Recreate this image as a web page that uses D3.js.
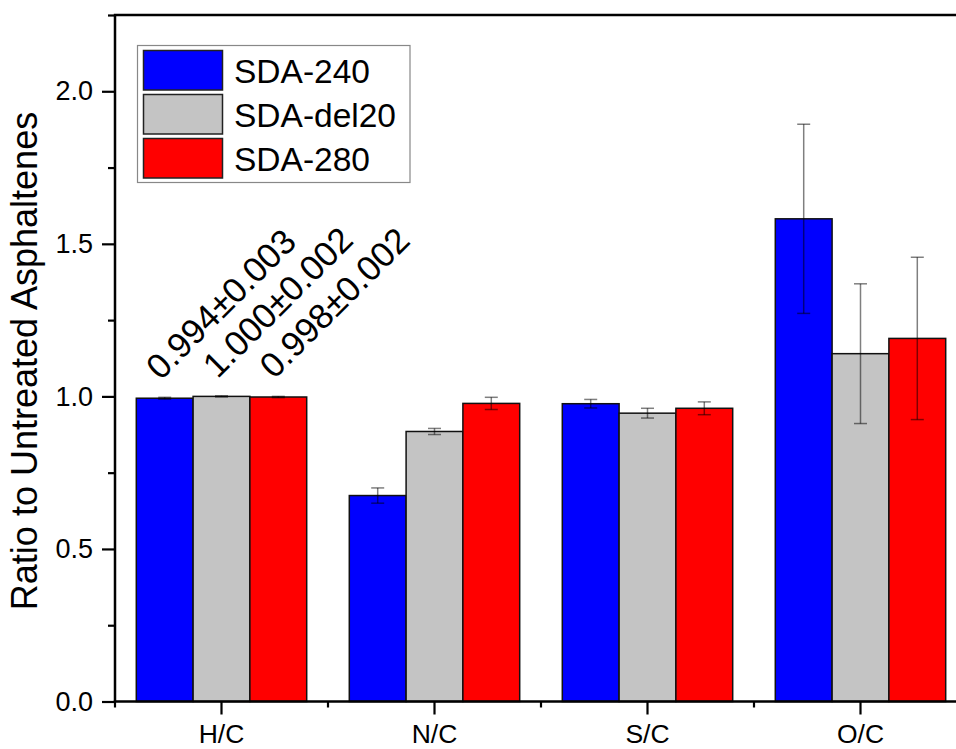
<!DOCTYPE html>
<html>
<head>
<meta charset="utf-8">
<script src="https://cdn.jsdelivr.net/npm/d3@7"></script>
<style>
  html, body { margin: 0; padding: 0; background: #fff; overflow: hidden; }
  text { font-family: Arial, "Liberation Sans", sans-serif; }
</style>
</head>
<body>
<svg id="chart" width="956" height="749"></svg>
<script>
const categories = ["H/C", "N/C", "S/C", "O/C"];
const seriesNames = ["SDA-240", "SDA-del20", "SDA-280"];
const seriesColors = ["#0000FF", "#C4C4C4", "#FF0000"];
const sda240 = [0.994, 0.675, 0.976, 1.582];
const sda240Err = [0.003, 0.025, 0.014, 0.31];
const sdaDel20 = [1.000, 0.885, 0.945, 1.140];
const sdaDel20Err = [0.002, 0.010, 0.016, 0.229];
const sda280 = [0.998, 0.977, 0.961, 1.190];
const sda280Err = [0.002, 0.020, 0.021, 0.266];
const hcLabels = ["0.994\u00B10.003", "1.000\u00B10.002", "0.998\u00B10.002"];
const yTicks = [0.0, 0.5, 1.0, 1.5, 2.0];
const yMinorTicks = [0.25, 0.75, 1.25, 1.75, 2.25];
const yTitle = "Ratio to Untreated Asphaltenes";

const values = [sda240, sdaDel20, sda280];
const errors = [sda240Err, sdaDel20Err, sda280Err];

const svg = d3.select("#chart");
const pLeft = 115, pTop = 15, pBottom = 701.5, step = 213;
const pRight = pLeft + step * categories.length;

const x = d3.scaleBand().domain(categories).range([pLeft, pRight]).paddingInner(0.2).paddingOuter(0.1);
const xs = d3.scaleBand().domain(seriesNames).range([0, x.bandwidth()]);
const y = d3.scaleLinear().domain([0, 2.25]).range([pBottom, pTop]);

const rows = [];
categories.forEach((c, ci) => {
  seriesNames.forEach((s, si) => {
    rows.push({cat: c, ser: s, si, v: values[si][ci], e: errors[si][ci]});
  });
});

// bars
svg.append("g").selectAll("rect").data(rows).join("rect")
  .attr("x", d => x(d.cat) + xs(d.ser))
  .attr("y", d => y(d.v))
  .attr("width", xs.bandwidth())
  .attr("height", d => y(0) - y(d.v))
  .attr("fill", d => seriesColors[d.si])
  .attr("stroke", "#111")
  .attr("stroke-width", 1.5);

// error bars
const eg = svg.append("g").attr("stroke", "#000").attr("stroke-opacity", 0.5).attr("stroke-width", 1.5);
rows.forEach(d => {
  const cx = x(d.cat) + xs(d.ser) + xs.bandwidth() / 2;
  const y1 = y(d.v + d.e), y2 = y(d.v - d.e);
  eg.append("line").attr("x1", cx).attr("x2", cx).attr("y1", y1).attr("y2", y2);
  eg.append("line").attr("x1", cx - 6.5).attr("x2", cx + 6.5).attr("y1", y1).attr("y2", y1);
  eg.append("line").attr("x1", cx - 6.5).attr("x2", cx + 6.5).attr("y1", y2).attr("y2", y2);
});

// rotated labels over H/C bars
seriesNames.forEach((s, si) => {
  const cx = x(categories[0]) + xs(s) + xs.bandwidth() / 2 - 4;
  const ty = y(values[si][0]) - 17;
  svg.append("text")
    .attr("transform", `translate(${cx},${ty}) rotate(-45)`)
    .attr("font-size", 35)
    .attr("fill", "#000")
    .text(hcLabels[si]);
});

// y axis
const yAxis = d3.axisLeft(y).tickValues(yTicks).tickFormat(d3.format(".1f")).tickSize(13).tickPadding(9);
const gy = svg.append("g").attr("transform", `translate(${pLeft},0)`).call(yAxis);
gy.select(".domain").remove();
gy.selectAll(".tick line").attr("stroke", "#000").attr("stroke-width", 2.2);
gy.selectAll(".tick text").attr("font-size", 27).attr("fill", "#000").attr("font-family", "Arial, 'Liberation Sans', sans-serif");
const yMinor = d3.axisLeft(y).tickValues(yMinorTicks).tickFormat("").tickSize(7);
const gym = svg.append("g").attr("transform", `translate(${pLeft},0)`).call(yMinor);
gym.select(".domain").remove();
gym.selectAll(".tick line").attr("stroke", "#000").attr("stroke-width", 2.2);

// x axis
const xAxis = d3.axisBottom(x).tickSize(13).tickPadding(10);
const gx = svg.append("g").attr("transform", `translate(0,${pBottom})`).call(xAxis);
gx.select(".domain").remove();
gx.selectAll(".tick line").attr("stroke", "#000").attr("stroke-width", 2.2);
gx.selectAll(".tick text").attr("font-size", 26.5).attr("fill", "#000").attr("font-family", "Arial, 'Liberation Sans', sans-serif");
const bounds = d3.range(categories.length + 1).map(i => pLeft + i * step);
svg.append("g").selectAll("line").data(bounds).join("line")
  .attr("x1", d => d).attr("x2", d => d)
  .attr("y1", pBottom).attr("y2", pBottom + 6)
  .attr("stroke", "#000").attr("stroke-width", 2.2);

// frame lines
svg.append("line").attr("x1", pLeft).attr("x2", pLeft).attr("y1", pTop).attr("y2", pBottom)
  .attr("stroke", "#000").attr("stroke-width", 2.5);
svg.append("line").attr("x1", pLeft - 1.2).attr("x2", pRight).attr("y1", pBottom).attr("y2", pBottom)
  .attr("stroke", "#000").attr("stroke-width", 2.5);
svg.append("line").attr("x1", pLeft - 1.2).attr("x2", pRight).attr("y1", pTop).attr("y2", pTop)
  .attr("stroke", "#000").attr("stroke-width", 2.5);

// y title
svg.append("text")
  .attr("transform", `translate(37,361) rotate(-90)`)
  .attr("text-anchor", "middle")
  .attr("font-size", 36)
  .attr("fill", "#000")
  .text(yTitle);

// legend
const lg = svg.append("g");
lg.append("rect").attr("x", 137.5).attr("y", 45.5).attr("width", 272.5).attr("height", 137)
  .attr("fill", "#fff").attr("stroke", "#888").attr("stroke-width", 1.2);
seriesNames.forEach((s, i) => {
  const ry = 50.5 + i * 44;
  lg.append("rect").attr("x", 143.5).attr("y", ry).attr("width", 79).attr("height", 39.5)
    .attr("fill", seriesColors[i]).attr("stroke", "#222").attr("stroke-width", 1.5);
  lg.append("text").attr("x", 234).attr("y", ry + 32).attr("font-size", 33.5).attr("fill", "#000").text(s);
});
</script>
</body>
</html>
